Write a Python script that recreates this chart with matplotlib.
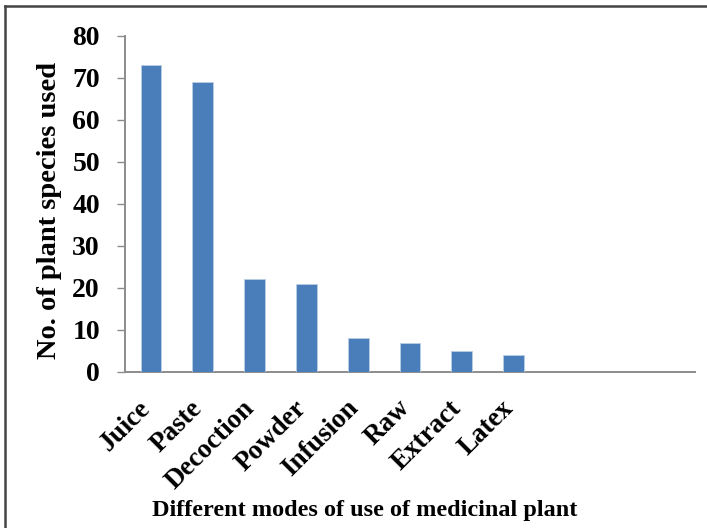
import matplotlib.pyplot as plt
import matplotlib.transforms as mtransforms
import numpy as np

modes = ["Juice", "Paste", "Decoction", "Powder", "Infusion", "Raw", "Extract", "Latex"]
species_count = [73, 69, 22, 21, 8, 7, 5, 4]
n_slots = 11  # category axis keeps room for 11 slots, last three empty
y_ticks = [0, 10, 20, 30, 40, 50, 60, 70, 80]

plt.rcParams['font.family'] = ['Liberation Serif', 'DejaVu Serif']
plt.rcParams['font.weight'] = 'bold'

fig = plt.figure(figsize=(7.07, 5.28), dpi=100)
ax = fig.add_axes([0.1768, 0.2955, 0.8062, 0.637])

x = np.arange(len(modes))
ax.bar(x, species_count, width=0.4, color='#4a7ebb', edgecolor='#b9cde5', linewidth=0.6, zorder=3)

ax.set_xlim(-0.5, n_slots - 0.5)
ax.set_ylim(0, 80)
ax.set_yticks(y_ticks)
ax.set_yticklabels([str(v) for v in y_ticks], fontsize=20, fontweight='bold')
ax.set_xticks(x)
ax.set_xticklabels(modes, rotation=45, ha='right', va='top', fontsize=19.5, fontweight='bold')

for side in ['top', 'right']:
    ax.spines[side].set_visible(False)
for side in ['left', 'bottom']:
    ax.spines[side].set_color('#8c8c8c')
    ax.spines[side].set_linewidth(1.4)

ax.tick_params(axis='y', direction='out', length=6, width=1, color='#8c8c8c', pad=12)
ax.tick_params(axis='x', length=0, pad=17)

# nudge the slanted category labels a little to the right
shift = mtransforms.ScaledTranslation(5 / 100, 0, fig.dpi_scale_trans)
for lbl in ax.get_xticklabels():
    lbl.set_transform(lbl.get_transform() + shift)

fig.text(50 / 707, 1 - 210 / 528, "No. of plant species used", rotation=90,
         ha='center', va='center', fontsize=20.5, fontweight='bold')
fig.text(365 / 707, 0.022, "Different modes of use of medicinal plant",
         ha='center', va='baseline', fontsize=17.5, fontweight='bold')

# thin frame along the top and left edges
fig.add_artist(plt.Line2D([5 / 707, 1.0], [1 - 6 / 528, 1 - 6 / 528], color='#444444', linewidth=1.8))
fig.add_artist(plt.Line2D([5 / 707, 5 / 707], [0.0, 1 - 6 / 528], color='#444444', linewidth=1.8))

fig.savefig('out.png', dpi=100)
